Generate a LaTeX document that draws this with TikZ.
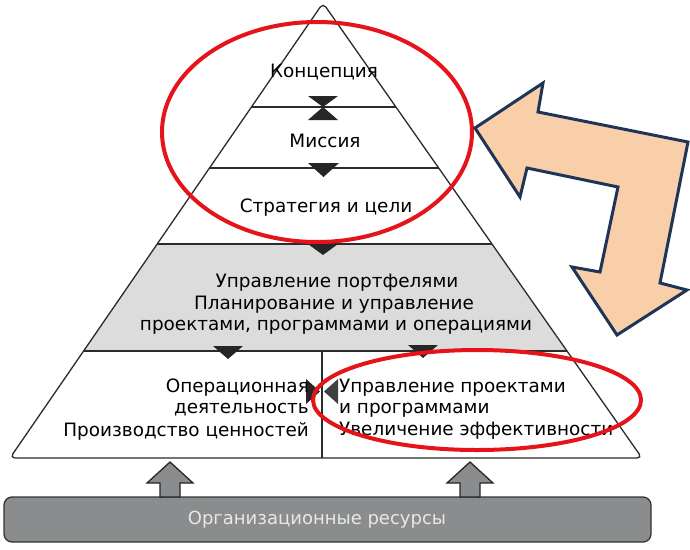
\documentclass[tikz,border=0pt]{standalone}
\usepackage{fontspec}
\setmainfont{DejaVu Sans}
\usetikzlibrary{calc}
\definecolor{lineC}{HTML}{2B2B2B}
\definecolor{bandC}{HTML}{DCDCDC}
\definecolor{redC}{HTML}{E5141B}
\definecolor{peach}{HTML}{F9CFA9}
\definecolor{navy}{HTML}{1F3557}
\definecolor{barC}{HTML}{8B8C8D}
\definecolor{barTxt}{HTML}{E8E8E8}
\tikzset{
  txt/.style={inner sep=0pt, font=\fontsize{18.4}{22}\selectfont, text=black},
  layerline/.style={draw=lineC, line width=1.3pt},
  marker/.style={fill=black!85, draw=none},
  ring/.style={draw=redC, line width=4pt},
  upArrow/.style={fill=barC, draw=black!85, line width=1.3pt, line join=miter},
}
\begin{document}
\begin{tikzpicture}[x=1pt,y=-1pt]
\useasboundingbox (0,0) rectangle (690,549);
\fill[white] (0,0) rectangle (690,549);
% pyramid corners
\coordinate (apex) at (323,3);
\coordinate (bl) at (10,458);
\coordinate (br) at (642,458);
% layer boundary points
\coordinate (l1a) at ($(apex)!0.2286!(bl)$); \coordinate (l1b) at ($(apex)!0.2286!(br)$);
\coordinate (l2a) at ($(apex)!0.3626!(bl)$); \coordinate (l2b) at ($(apex)!0.3626!(br)$);
\coordinate (l3a) at ($(apex)!0.5297!(bl)$); \coordinate (l3b) at ($(apex)!0.5297!(br)$);
\coordinate (l4a) at ($(apex)!0.7648!(bl)$); \coordinate (l4b) at ($(apex)!0.7648!(br)$);
% gray band
\fill[bandC] (l3a) -- (l3b) -- (l4b) -- (l4a) -- cycle;
% outline
\draw[layerline, rounded corners=5pt] (bl) -- (apex) -- (br) -- cycle;
\draw[layerline] (l1a) -- (l1b);
\draw[layerline] (l2a) -- (l2b);
\draw[layerline] (l3a) -- (l3b);
\draw[layerline] (l4a) -- (l4b);
\draw[layerline] (322,351) -- (322,458);
% markers
\fill[marker] (308,96) -- (338,96) -- (323,107) -- cycle;
\fill[marker] (308,120) -- (338,120) -- (323,107) -- cycle;
\fill[marker] (308,163) -- (339,163) -- (323.5,177) -- cycle;
\fill[marker] (308,244) -- (338,244) -- (323,255) -- cycle;
\fill[marker] (213,346) -- (243,346) -- (228,359) -- cycle;
\fill[marker] (408,345) -- (438,345) -- (423,358) -- cycle;
\fill[marker] (306,379) -- (306,404) -- (320,391.5) -- cycle;
\fill[fill=black!75] (338,379) -- (338,404) -- (324,391.5) -- cycle;
% texts
\node[txt] (t1) at (324,72) {Концепция};
\node[txt] (t2) at (325,141) {Миссия};
\node[txt] (t3) at (326,208) {Стратегия и цели};
\node[txt] (b1) at (337,283) {Управление портфелями};
\node[txt] (b2) at (334,305) {Планирование и управление};
\node[txt] (b3) at (336,327) {проектами, программами и операциями};
\node[txt, anchor=east] (o1) at (309,388) {Операционная};
\node[txt, anchor=east] (o2) at (309,410) {деятельность};
\node[txt, anchor=east] (o3) at (309,431) {Производство ценностей};
\node[txt, anchor=west] (p1) at (339,388) {Управление проектами};
\node[txt, anchor=west] (p2) at (339,410) {и программами};
\node[txt, anchor=west] (p3) at (339,431) {Увеличение эффективности};
% resource bar
\draw[fill=barC, draw=black!80, line width=1.3pt, rounded corners=8pt] (4,497) rectangle (651,542);
\node[inner sep=0pt, font=\fontsize{18}{22}\selectfont, text=barTxt] (res) at (317,520) {Организационные ресурсы};
% up arrows
\coordinate (u1) at (170,462);
\coordinate (u2) at (470,462);
\foreach \u in {u1,u2}{
  \draw[upArrow] (\u) -- ++(23,21) -- ++(-13,0) -- ++(0,14) -- ++(-20,0) -- ++(0,-14) -- ++(-13,0) -- cycle;
}
% red ellipses
\draw[ring] (317,132) ellipse [x radius=155, y radius=110];
\draw[ring] (477,400) ellipse [x radius=164, y radius=50];
% big peach arrow
\draw[fill=peach, draw=navy, line width=3pt, line join=miter]
  (475,128) -- (543,83) -- (538,112) -- (688,142) -- (660,283) -- (687,290)
  -- (617,335) -- (572,267) -- (600,272) -- (618,187) -- (527,168) -- (520,197) -- cycle;
\end{tikzpicture}
\end{document}
